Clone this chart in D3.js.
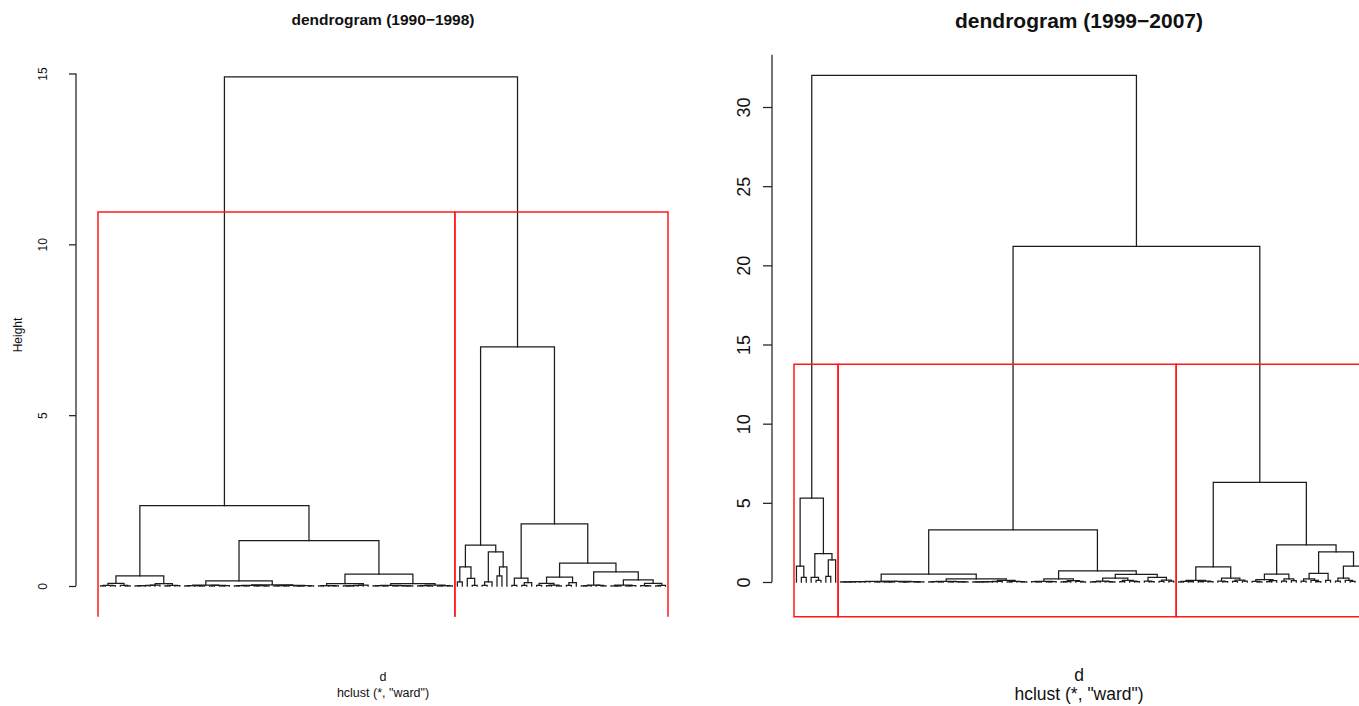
<!DOCTYPE html>
<html>
<head>
<meta charset="utf-8">
<script src="https://cdn.jsdelivr.net/npm/d3@7"></script>
<style>
  body { margin: 0; background: #fff; }
  svg { display: block; }
  text { font-family: "Liberation Sans", Arial, Helvetica, sans-serif; fill: #111; }
</style>
</head>
<body>
<svg id="chart" width="1359" height="706"></svg>
<script>
// Merge trees: an internal node is [height, left, right]; a leaf is 0.

// ---- 1990–1998 ----
const early_A = [0.30,
  [0.08, [0.02, [0.006, 0, 0], [0.01, 0, 0]], [0.015, 0, [0.005, 0, 0]]],
  [0.07, [0.022, [0.018, [0.012, [0.008, [0.004, 0, 0], 0], 0], 0], 0], [0.016, [0.005, 0, 0], [0.008, 0, 0]]]
];
const early_B1 = [0.15,
  [0.025, [0.014, [0.005, 0, 0], [0.008, 0, [0.003, 0, 0]]], [0.018, [0.006, 0, 0], [0.012, [0.004, 0, 0], 0]]],
  [0.03,
    [0.016, [0.008, [0.003, 0, 0], [0.004, 0, 0]], [0.01, [0.005, 0, 0], [0.003, 0, 0]]],
    [0.02, [0.01, [0.004, 0, 0], [0.005, 0, 0]], [0.013, [0.005, 0, [0.002, 0, 0]], [0.006, 0, 0]]]]
];
const early_B2 = [0.35,
  [0.07, [0.014, [0.005, 0, 0], [0.008, 0, [0.003, 0, 0]]], [0.025, [0.02, [0.012, [0.007, [0.003, 0, 0], 0], 0], 0], 0]],
  [0.07,
    [0.018, [0.008, [0.003, 0, 0], [0.004, 0, 0]], [0.01, [0.005, 0, 0], [0.006, 0, [0.002, 0, 0]]]],
    [0.022, [0.01, [0.003, 0, 0], [0.005, 0, 0]], [0.012, [0.004, 0, 0], [0.006, 0, 0]]]]
];
const early_R1 = [1.2,
  [0.56, [0.12, 0, 0], [0.22, 0, [0.02, 0, 0]]],
  [1.0, [0.12, [0.02, 0, 0], 0], [0.56, [0.3, 0, 0], 0]]
];
const early_R2 = [1.82,
  [0.23, [0.02, 0, 0], [0.1, [0.015, 0, 0], 0]],
  [0.67,
    [0.26, [0.08, [0.015, 0, 0], [0.025, [0.01, 0, 0], [0.005, 0, 0]]], [0.1, [0.02, 0, 0], 0]],
    [0.41,
      [0.025, [0.012, [0.005, 0, 0], 0], [0.018, 0, [0.007, 0, 0]]],
      [0.18, [0.025, [0.006, 0, [0.003, 0, 0]], [0.01, [0.004, 0, 0], 0]], [0.08, [0.01, 0, [0.005, 0, 0]], [0.015, [0.005, 0, 0], 0]]]]]
];
const early_tree = [14.9, [2.35, early_A, [1.33, early_B1, early_B2]], [7.0, early_R1, early_R2]];
const early_ticks = [0, 5, 10, 15];
const early_k = 2;

// ---- 1999–2007 ----
const late_C1 = [5.3, [1.0, 0, [0.3, 0, 0]], [1.8, [0.3, 0, [0.1, 0, 0]], [1.4, [0.35, 0, 0], 0]]];
const late_C2a = [0.5,
  [0.04,
    [0.03, [0.025, [0.018, [0.012, [0.008, [0.004, 0, 0], 0], 0], 0], 0], 0],
    [0.035, [0.02, [0.008, 0, 0], [0.012, 0, [0.005, 0, 0]]], [0.025, [0.01, 0, [0.004, 0, 0]], [0.015, [0.006, 0, 0], 0]]]],
  [0.2,
    [0.04, [0.02, [0.008, 0, 0], [0.012, 0, 0]], [0.025, [0.01, 0, 0], [0.015, 0, [0.006, 0, 0]]]],
    [0.1,
      [0.04, [0.03, [0.022, [0.015, [0.01, [0.005, 0, 0], 0], 0], 0], 0], 0],
      [0.035, [0.01, 0, 0], [0.02, 0, [0.008, 0, 0]]]]]
];
const late_C2b = [0.7,
  [0.2, [0.04, [0.02, 0, [0.008, 0, 0]], [0.025, [0.01, 0, 0], 0]], [0.08, [0.03, [0.01, 0, 0], 0], [0.04, 0, [0.015, 0, 0]]]],
  [0.48,
    [0.25, [0.05, [0.02, [0.005, 0, 0], 0], [0.03, 0, [0.01, 0, 0]]], [0.1, [0.03, 0, 0], [0.05, 0, [0.02, 0, 0]]]],
    [0.3, [0.05, 0, [0.02, 0, 0]], [0.12, [0.04, 0, 0], [0.06, 0, 0]]]]
];
const late_C3 = [6.3,
  [0.95,
    [0.1, [0.04, [0.01, 0, 0], [0.02, 0, 0]], [0.06, [0.02, 0, 0], [0.03, 0, 0]]],
    [0.25, [0.05, 0, [0.02, 0, 0]], [0.12, [0.04, 0, 0], [0.06, 0, 0]]]],
  [2.35,
    [0.5, [0.15, [0.04, 0, [0.015, 0, 0]], [0.08, [0.03, 0, 0], 0]], [0.2, [0.05, 0, 0], [0.08, 0, 0]]],
    [1.9,
      [0.55, [0.2, [0.06, 0, 0], [0.1, 0, [0.03, 0, 0]]], [0.1, 0, 0]],
      [1.0, [0.25, [0.05, 0, 0], [0.1, 0, [0.04, 0, 0]]], [0.3, 0, [0.1, 0, 0]]]]]
];
const late_tree = [32.0, late_C1, [21.2, [3.3, late_C2a, late_C2b], late_C3]];
const late_ticks = [0, 5, 10, 15, 20, 25, 30];
const late_k = 3;

const titles = ["dendrogram (1990\u22121998)", "dendrogram (1999\u22122007)"];
const xLabel = "d";
const subLabel = 'hclust (*, "ward")';
const yLabel = "Height";

const svg = d3.select("#chart");

function drawDendrogram(tree, ticks, k, title, o) {
  const g = svg.append("g");
  const root = d3.hierarchy(tree, d => Array.isArray(d) ? d.slice(1) : null);
  const leaves = root.leaves();
  const n = leaves.length;

  const x = d3.scaleLinear().domain([0.5, n + 0.5]).range(o.xRange);
  const y = d3.scaleLinear().domain([0, ticks[ticks.length - 1]]).range(o.yRange);

  leaves.forEach((d, i) => { d.pos = i + 1; });
  root.eachAfter(d => {
    d.h = d.children ? d.data[0] : 0;
    if (d.children) d.pos = (d.children[0].pos + d.children[1].pos) / 2;
  });

  const internal = root.descendants().filter(d => d.children);

  // merge segments
  g.append("g").selectAll("path").data(internal).join("path")
    .attr("d", d => {
      const [a, b] = d.children;
      return `M${x(a.pos)},${y(a.h)}V${y(d.h)}H${x(b.pos)}V${y(b.h)}`;
    })
    .attr("fill", "none")
    .attr("stroke", "#1c1c1c")
    .attr("stroke-width", 1.25)
    .attr("stroke-linecap", "square");

  // cut into k groups and box each group
  const byHeight = internal.slice().sort((a, b) => b.h - a.h);
  const top = new Set(byHeight.slice(0, k - 1));
  const groups = [];
  top.forEach(nd => nd.children.forEach(c => { if (!top.has(c)) groups.push(c); }));
  const cutH = (byHeight[k - 2].h + byHeight[k - 1].h) / 2;
  groups.forEach(gr => {
    const ps = gr.leaves().map(l => l.pos);
    gr.lo = d3.min(ps); gr.hi = d3.max(ps);
  });
  const yb = y(o.usrBottom), yt = y(cutH);
  g.append("g").selectAll("path").data(groups).join("path")
    .attr("d", d => {
      const x0 = x(d.lo - 0.5), x1 = x(d.hi + 0.5);
      return `M${x0},${yb}V${yt}H${x1}V${yb}` + (o.rectBottom ? "Z" : "");
    })
    .attr("fill", "none")
    .attr("stroke", "#ff1a1a")
    .attr("stroke-width", 1.5);

  // height axis
  const axis = d3.axisLeft(y).tickValues(ticks).tickSize(o.tickLen).tickFormat(d3.format("d"));
  const ag = g.append("g")
    .attr("transform", `translate(${o.axisX},0)`)
    .attr("color", "#222")
    .call(axis);
  ag.select(".domain").remove();
  ag.append("line")
    .attr("y1", y(0)).attr("y2", y(o.axisTop))
    .attr("stroke", "#222").attr("stroke-width", 1.25);
  ag.selectAll(".tick line").attr("stroke-width", 1.25);
  ag.selectAll(".tick text")
    .attr("x", 0).attr("dy", 0)
    .attr("transform", `translate(${-o.labelOff},0) rotate(-90)`)
    .attr("text-anchor", "middle")
    .attr("font-size", o.tickFont)
    .attr("font-family", '"Liberation Sans", Arial, sans-serif')
    .attr("fill", "#111");

  // titles
  g.append("text").attr("x", o.cx).attr("y", o.titleY)
    .attr("text-anchor", "middle").attr("font-weight", "bold")
    .attr("font-size", o.titleFont).text(title);
  g.append("text").attr("x", o.cx).attr("y", o.dY)
    .attr("text-anchor", "middle").attr("font-size", o.subFont).text(xLabel);
  g.append("text").attr("x", o.cx).attr("y", o.subY)
    .attr("text-anchor", "middle").attr("font-size", o.subFont).text(subLabel);
  if (o.yLab) {
    g.append("text")
      .attr("transform", `translate(${o.yLab[0]},${o.yLab[1]}) rotate(-90)`)
      .attr("text-anchor", "middle").attr("font-size", o.subFont - 0.5).text(yLabel);
  }
}

drawDendrogram(early_tree, early_ticks, early_k, titles[0], {
  xRange: [98, 668], yRange: [586, 73.5], axisX: 76, axisTop: 15,
  tickLen: 7, labelOff: 29, tickFont: 12, usrBottom: -0.9, rectBottom: false,
  cx: 383, titleY: 25, titleFont: 15.5, dY: 681, subY: 697, subFont: 12.5,
  yLab: [22, 335]
});

drawDendrogram(late_tree, late_ticks, late_k, titles[1], {
  xRange: [794, 1372.2], yRange: [582, 107], axisX: 772, axisTop: 33.3,
  tickLen: 9, labelOff: 22, tickFont: 18, usrBottom: -2.2, rectBottom: true,
  cx: 1079, titleY: 28, titleFont: 21, dY: 681, subY: 700, subFont: 17.5
});
</script>
</body>
</html>
